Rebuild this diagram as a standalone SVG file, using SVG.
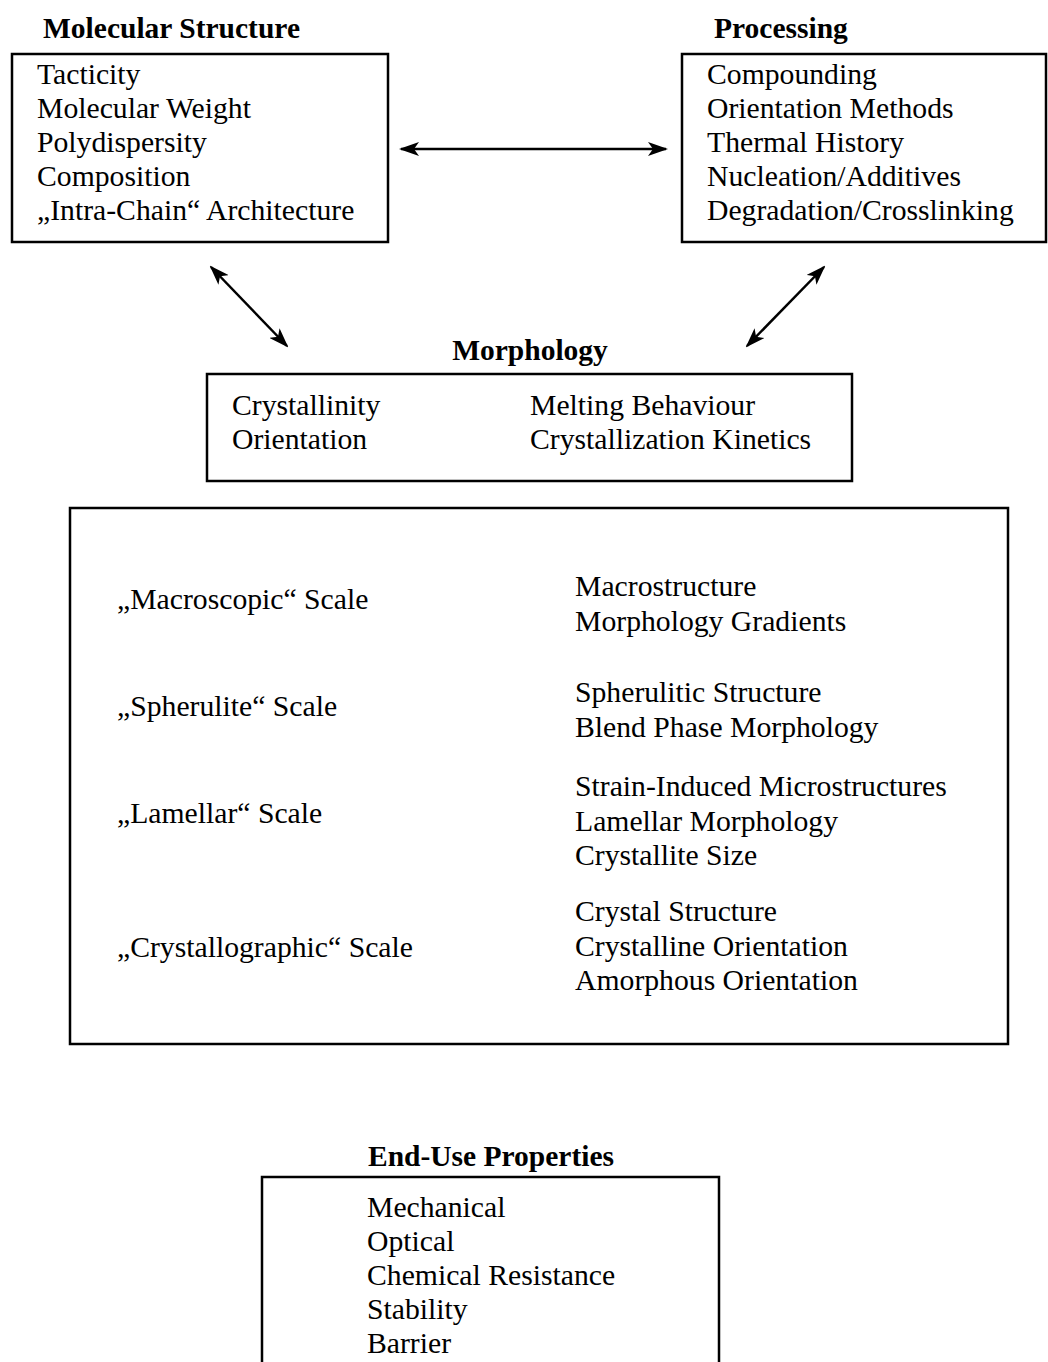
<svg xmlns="http://www.w3.org/2000/svg" width="1048" height="1362" viewBox="0 0 1048 1362">
<defs>
<marker id="ah" viewBox="0 0 20 14" refX="18" refY="7" markerWidth="20" markerHeight="14" markerUnits="userSpaceOnUse" orient="auto-start-reverse">
<path d="M0,0 L20,7 L0,14 L5,7 Z" fill="#000"/>
</marker>
<style>
.t{font-family:"Liberation Serif","Times New Roman",serif;font-size:29.7px;fill:#000}
.h{font-family:"Liberation Serif","Times New Roman",serif;font-size:29.5px;font-weight:bold;fill:#000}
.box{fill:none;stroke:#000;stroke-width:2.5}
.c{stroke:#000;stroke-width:2.5;fill:none}
</style>
</defs>
<rect width="1048" height="1362" fill="#fff"/>
<g id="molecular-structure">
<text class="h" x="43" y="38">Molecular Structure</text>
<rect class="box" x="12" y="54" width="376" height="188"/>
<text class="t" x="37" y="84">Tacticity</text>
<text class="t" x="37" y="118">Molecular Weight</text>
<text class="t" x="37" y="152">Polydispersity</text>
<text class="t" x="37" y="186">Composition</text>
<text class="t" x="37" y="220">„Intra-Chain“ Architecture</text>
</g>
<g id="processing">
<text class="h" x="714" y="38">Processing</text>
<rect class="box" x="682" y="54" width="364" height="188"/>
<text class="t" x="707" y="84">Compounding</text>
<text class="t" x="707" y="118">Orientation Methods</text>
<text class="t" x="707" y="152">Thermal History</text>
<text class="t" x="707" y="186">Nucleation/Additives</text>
<text class="t" x="707" y="220">Degradation/Crosslinking</text>
</g>
<g id="morphology">
<text class="h" x="530" y="360" text-anchor="middle">Morphology</text>
<rect class="box" x="207" y="374" width="645" height="107"/>
<text class="t" x="232" y="415">Crystallinity</text>
<text class="t" x="232" y="449">Orientation</text>
<text class="t" x="530" y="415">Melting Behaviour</text>
<text class="t" x="530" y="449">Crystallization Kinetics</text>
</g>
<g id="scales">
<rect class="box" x="70" y="508" width="938" height="536"/>
<text class="t" x="117" y="609">„Macroscopic“ Scale</text>
<text class="t" x="117" y="716">„Spherulite“ Scale</text>
<text class="t" x="117" y="823">„Lamellar“ Scale</text>
<text class="t" x="117" y="957">„Crystallographic“ Scale</text>
<text class="t" x="575" y="596">Macrostructure</text>
<text class="t" x="575" y="631">Morphology Gradients</text>
<text class="t" x="575" y="702">Spherulitic Structure</text>
<text class="t" x="575" y="737">Blend Phase Morphology</text>
<text class="t" x="575" y="796">Strain-Induced Microstructures</text>
<text class="t" x="575" y="831">Lamellar Morphology</text>
<text class="t" x="575" y="865">Crystallite Size</text>
<text class="t" x="575" y="921">Crystal Structure</text>
<text class="t" x="575" y="956">Crystalline Orientation</text>
<text class="t" x="575" y="990">Amorphous Orientation</text>
</g>
<g id="end-use">
<text class="h" x="491" y="1166" text-anchor="middle">End-Use Properties</text>
<rect class="box" x="262" y="1177" width="457" height="190"/>
<text class="t" x="367" y="1217">Mechanical</text>
<text class="t" x="367" y="1251">Optical</text>
<text class="t" x="367" y="1285">Chemical Resistance</text>
<text class="t" x="367" y="1319">Stability</text>
<text class="t" x="367" y="1353">Barrier</text>
</g>
<g id="connectors">
<line class="c" x1="401" y1="149" x2="666" y2="149" marker-start="url(#ah)" marker-end="url(#ah)"/>
<line class="c" x1="211" y1="267" x2="287" y2="346" marker-start="url(#ah)" marker-end="url(#ah)"/>
<line class="c" x1="824" y1="267" x2="747" y2="346" marker-start="url(#ah)" marker-end="url(#ah)"/>
</g>
</svg>
